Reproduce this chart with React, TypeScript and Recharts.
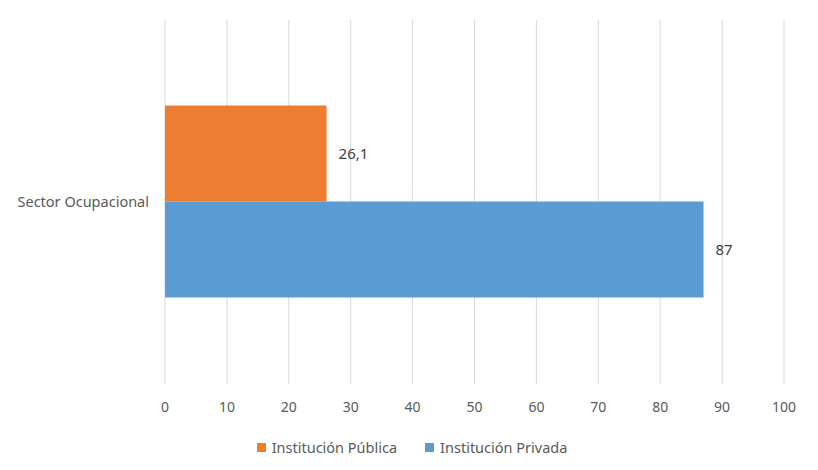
import React from "react";
import { BarChart, Bar, XAxis, YAxis, CartesianGrid, Legend, LabelList } from "recharts";

const categories = ["Sector Ocupacional"];
const publicaValues = [26.1];
const privadaValues = [87];
const xTicks = [0, 10, 20, 30, 40, 50, 60, 70, 80, 90, 100];
const seriesNames = ["Institución Pública", "Institución Privada"];
const seriesColors = ["#ED7D31", "#5B9BD5"];

const data = categories.map((c, i) => ({
  name: c,
  publica: publicaValues[i],
  privada: privadaValues[i],
}));

const FONT = "'Noto Sans', 'Open Sans', sans-serif";
const fmt = (v: any) => String(v).replace(".", ",");

const LegendContent = () => (
  <div
    style={{
      display: "flex",
      justifyContent: "center",
      alignItems: "center",
      fontFamily: FONT,
      fontSize: 14.5,
      color: "#595959",
      paddingLeft: 6,
    }}
  >
    {seriesNames.map((n, i) => (
      <div key={n} style={{ display: "flex", alignItems: "center", marginRight: i === 0 ? 28 : 0 }}>
        <span style={{ width: 9, height: 9, background: seriesColors[i], display: "inline-block", marginRight: 6 }} />
        <span>{n}</span>
      </div>
    ))}
  </div>
);

export default function App() {
  return (
    <div style={{ position: "absolute", left: 0, top: 0, background: "#fff" }}>
      <BarChart
        width={818}
        height={470}
        data={data}
        layout="vertical"
        margin={{ top: 20, right: 34, left: 0, bottom: 36 }}
        barCategoryGap="23.5%"
        barGap={0}
      >
        <CartesianGrid horizontal={false} stroke="#d9d9d9" strokeWidth={1} />
        <XAxis
          type="number"
          domain={[0, 100]}
          ticks={xTicks}
          axisLine={false}
          tickLine={false}
          tickMargin={12}
          interval={0}
          tick={{ fill: "#595959", fontSize: 14, fontFamily: FONT }}
          height={30}
        />
        <YAxis
          type="category"
          dataKey="name"
          width={165}
          axisLine={false}
          tickLine={false}
          tickSize={0}
          tickMargin={16}
          tick={{ fill: "#595959", fontSize: 14.5, fontFamily: FONT }}
        />
        <Legend
          verticalAlign="bottom"
          content={<LegendContent />}
          wrapperStyle={{ top: 437, left: 0, width: 818 }}
        />
        <Bar dataKey="publica" name={seriesNames[0]} fill={seriesColors[0]} isAnimationActive={false}>
          <LabelList dataKey="publica" position="right" offset={12} formatter={fmt} fill="#404040" fontSize={15} fontFamily={FONT} />
        </Bar>
        <Bar dataKey="privada" name={seriesNames[1]} fill={seriesColors[1]} isAnimationActive={false}>
          <LabelList dataKey="privada" position="right" offset={12} formatter={fmt} fill="#404040" fontSize={15} fontFamily={FONT} />
        </Bar>
      </BarChart>
    </div>
  );
}
